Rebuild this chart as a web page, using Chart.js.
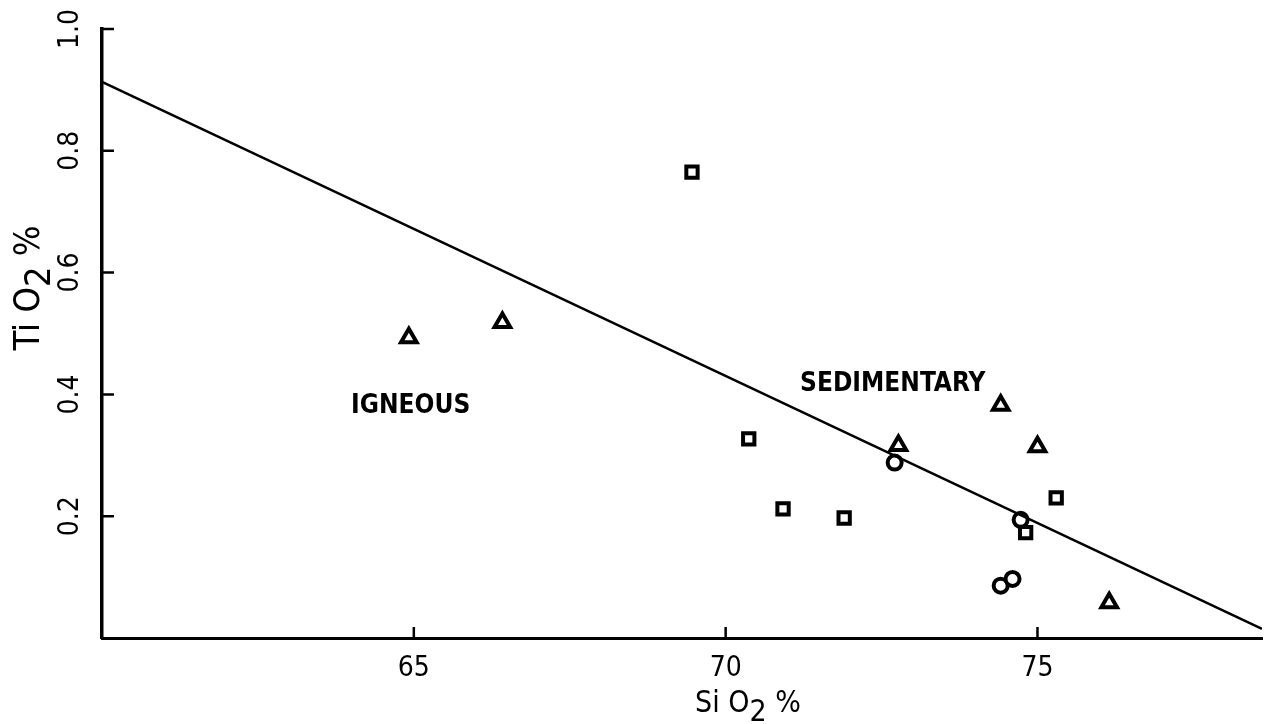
<!DOCTYPE html>
<html>
<head>
<meta charset="utf-8">
<script src="https://cdn.jsdelivr.net/npm/chart.js@4.4.1/dist/chart.umd.min.js"></script>
<style>
  html, body { margin: 0; padding: 0; background: #fff; }
  #wrap { width: 1275px; height: 724px; }
</style>
</head>
<body>
<div id="wrap"><canvas id="chart"></canvas></div>
<script>
'use strict';

// tick labels
const xTicks = [65, 70, 75];
const yTicks = [0.2, 0.4, 0.6, 0.8, 1.0];

// samples (SiO2 %, TiO2 %)
const triangles = [
  { x: 64.92, y: 0.493 }, { x: 66.42, y: 0.518 }, { x: 72.77, y: 0.316 },
  { x: 74.41, y: 0.382 }, { x: 75.0, y: 0.314 }, { x: 76.15, y: 0.058 }
];
const squares = [
  { x: 69.46, y: 0.765 }, { x: 70.37, y: 0.327 }, { x: 70.92, y: 0.212 },
  { x: 71.9, y: 0.197 }, { x: 74.81, y: 0.173 }, { x: 75.3, y: 0.230 }
];
const circles = [
  { x: 72.71, y: 0.288 }, { x: 74.73, y: 0.194 }, { x: 74.41, y: 0.086 }, { x: 74.6, y: 0.097 }
];

// discriminant line igneous / sedimentary
const boundary = [{ x: 60, y: 0.913 }, { x: 78.6, y: 0.015 }];

// field names, positioned in data units
const fieldLabels = [
  { text: 'IGNEOUS', x: 64.95, y: 0.38 },
  { text: 'SEDIMENTARY', x: 72.68, y: 0.416 }
];

const FONT = '"DejaVu Sans Condensed", "DejaVu Sans", sans-serif';

// inward tick marks, axis titles and field names
const decor = {
  id: 'decor',
  afterDraw(chart) {
    const { ctx, chartArea: a, scales: { x, y } } = chart;
    ctx.save();
    ctx.strokeStyle = '#000';
    ctx.lineWidth = 2.5;
    ctx.beginPath();
    x.ticks.forEach(t => {
      const px = x.getPixelForValue(t.value);
      ctx.moveTo(px, a.bottom); ctx.lineTo(px, a.bottom - 11);
    });
    y.ticks.forEach(t => {
      const py = y.getPixelForValue(t.value);
      ctx.moveTo(a.left, py); ctx.lineTo(a.left + 12, py);
    });
    ctx.stroke();

    ctx.fillStyle = '#000';
    ctx.font = `bold 26px ${FONT}`;
    ctx.textAlign = 'center';
    ctx.textBaseline = 'middle';
    fieldLabels.forEach(l => {
      ctx.fillText(l.text, x.getPixelForValue(l.x), y.getPixelForValue(l.y));
    });

    // axis titles with subscript 2
    const drawTitle = (parts, cx, cy, rot, size) => {
      ctx.save();
      ctx.translate(cx, cy);
      ctx.rotate(rot);
      ctx.font = `${size}px ${FONT}`;
      ctx.textAlign = 'left';
      ctx.textBaseline = 'alphabetic';
      const w = parts.reduce((s, p) => s + ctx.measureText(p.t).width, 0);
      let px = -w / 2;
      parts.forEach(p => {
        ctx.fillText(p.t, px, p.sub ? size * 0.63 : size * 0.33);
        px += ctx.measureText(p.t).width;
      });
      ctx.restore();
    };
    const parts = el => [{ t: el + ' O' }, { t: '2', sub: true }, { t: ' %' }];
    drawTitle(parts('Si'), 748, 702, 0, 30);
    drawTitle(parts('Ti'), 27, 288, -Math.PI / 2, 36);
    ctx.restore();
  }
};

const pointSet = (label, data, style, r) => ({
  type: 'scatter', label, data,
  pointStyle: style, pointRadius: r, pointHoverRadius: r,
  borderColor: '#000', backgroundColor: '#fff', pointBorderWidth: 4
});

new Chart(document.getElementById('chart'), {
  data: {
    datasets: [
      {
        type: 'line', label: 'boundary', data: boundary,
        borderColor: '#000', borderWidth: 2.5, pointRadius: 0, fill: false
      },
      pointSet('triangle', triangles, 'triangle', 9),
      pointSet('square', squares, 'rect', 8),
      pointSet('circle', circles, 'circle', 7)
    ]
  },
  options: {
    responsive: true, maintainAspectRatio: false, animation: false,
    layout: { padding: { top: 29, right: 7, bottom: 0, left: 0 } },
    plugins: { legend: { display: false }, tooltip: { enabled: false } },
    scales: {
      x: {
        type: 'linear', min: 60, max: 78.6,
        afterBuildTicks: s => { s.ticks = xTicks.map(v => ({ value: v })); },
        afterFit: s => { s.height = 86; },
        grid: { display: false, drawTicks: false },
        border: { display: true, color: '#000', width: 3 },
        ticks: { color: '#000', padding: 14, font: { family: FONT, size: 28 }, callback: v => String(v) }
      },
      y: {
        type: 'linear', min: 0, max: 1.0,
        afterBuildTicks: s => { s.ticks = yTicks.map(v => ({ value: v })); },
        afterFit: s => { s.width = 102; },
        grid: { display: false, drawTicks: false },
        border: { display: true, color: '#000', width: 3.5 },
        ticks: {
          color: '#000', padding: 11, minRotation: 90, maxRotation: 90, crossAlign: 'center',
          font: { family: FONT, size: 28 }, callback: v => v.toFixed(1)
        }
      }
    }
  },
  plugins: [decor]
});
</script>
</body>
</html>
